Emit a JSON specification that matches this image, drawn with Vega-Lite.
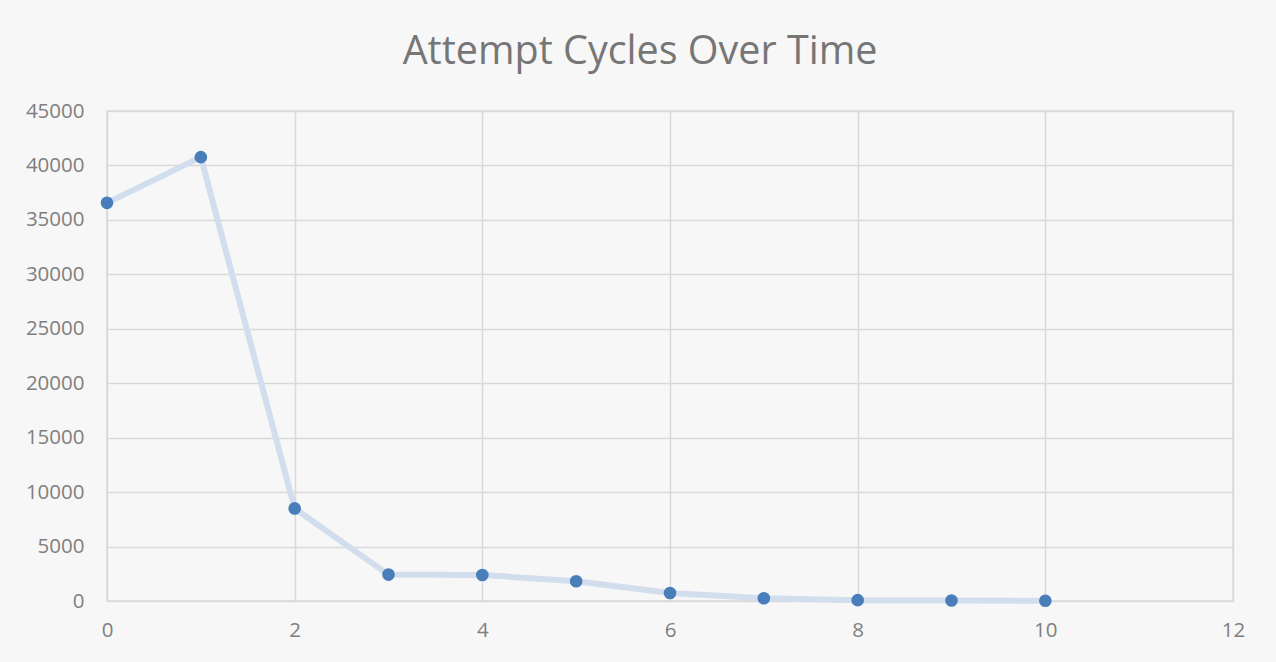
{
  "$schema": "https://vega.github.io/schema/vega-lite/v6.json",
  "autosize": {"type": "none"},
  "width": 1126,
  "height": 490,
  "padding": {"left": 107, "top": 111, "right": 43, "bottom": 61},
  "background": "#f7f7f7",
  "title": {
    "text": "Attempt Cycles Over Time",
    "font": "Open Sans",
    "fontSize": 39.5,
    "fontWeight": "normal",
    "color": "#767676",
    "anchor": "middle",
    "offset": 29,
    "dx": -30,
    "limit": 0
  },
  "config": {
    "view": {"stroke": "#d9d9d9", "strokeWidth": 1.5},
    "axis": {
      "labelFont": "Open Sans",
      "labelFontSize": 20.5,
      "labelColor": "#7f7f7f",
      "gridColor": "#d9d9d9",
      "gridWidth": 1.5,
      "ticks": false,
      "domain": false,
      "title": null
    }
  },
  "data": {
    "values": [
      {"x": 0, "y": 36565},
      {"x": 1, "y": 40764},
      {"x": 2, "y": 8500},
      {"x": 3, "y": 2425},
      {"x": 4, "y": 2390},
      {"x": 5, "y": 1810},
      {"x": 6, "y": 735},
      {"x": 7, "y": 250},
      {"x": 8, "y": 80},
      {"x": 9, "y": 50},
      {"x": 10, "y": 20}
    ]
  },
  "encoding": {
    "x": {
      "field": "x",
      "type": "quantitative",
      "scale": {"domain": [0, 12], "nice": false, "zero": true},
      "axis": {"values": [0, 2, 4, 6, 8, 10, 12], "labelPadding": 19, "labelFlush": false}
    },
    "y": {
      "field": "y",
      "type": "quantitative",
      "scale": {"domain": [0, 45000], "nice": false},
      "axis": {"values": [0, 5000, 10000, 15000, 20000, 25000, 30000, 35000, 40000, 45000], "labelPadding": 23, "format": "d"}
    }
  },
  "layer": [
    {"mark": {"type": "line", "color": "#d2deed", "strokeWidth": 6, "strokeCap": "round", "strokeJoin": "round"}},
    {"mark": {"type": "point", "filled": true, "color": "#4a7ebb", "opacity": 1, "size": 160}}
  ]
}
